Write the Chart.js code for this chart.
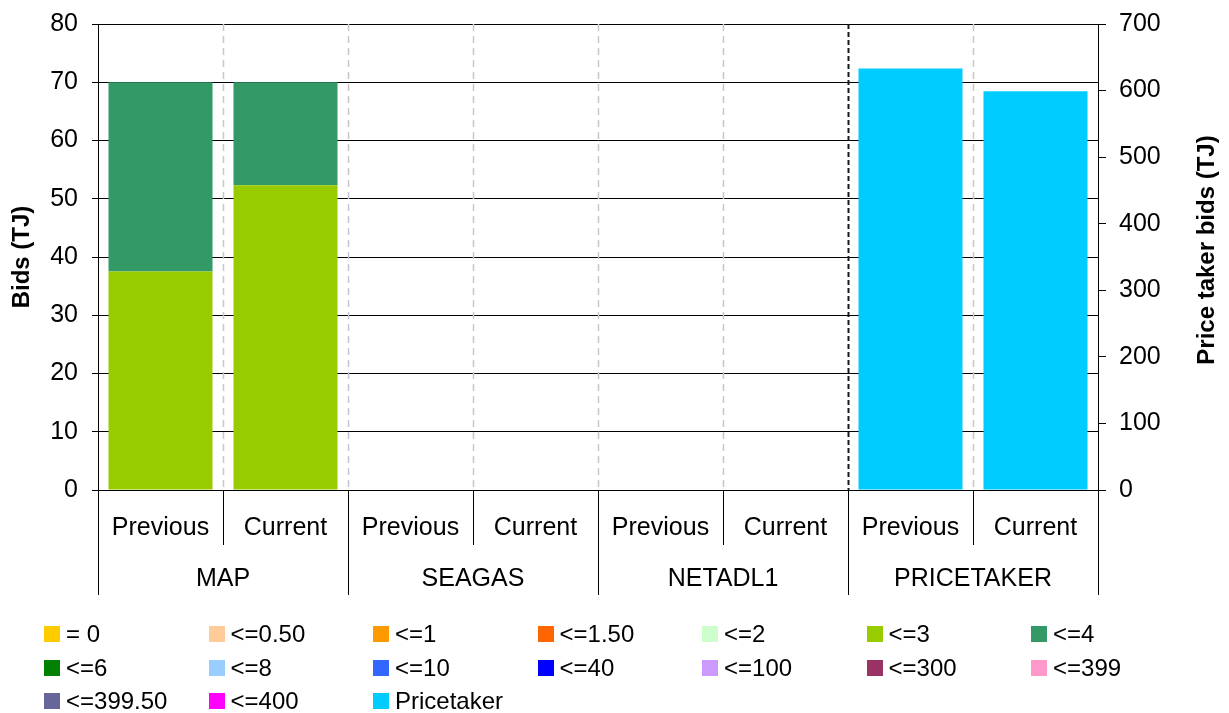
<!DOCTYPE html>
<html>
<head>
<meta charset="utf-8">
<title>Bids by price band</title>
<script src="https://cdn.jsdelivr.net/npm/chart.js@4.4.1/dist/chart.umd.min.js"></script>
<style>
  html, body { margin: 0; padding: 0; background: #fff; }
  #wrap { position: relative; width: 1229px; height: 713px; }
  #chart { position: absolute; left: 0; top: 0; }
  #legend { position: absolute; left: 0; top: 0; width: 1229px; height: 713px; pointer-events: none;
            font-family: 'Liberation Sans', Arial, sans-serif; font-size: 24px; color: #000; }
  .item { position: absolute; display: flex; align-items: center; height: 24px; white-space: nowrap; }
  .swatch { width: 16px; height: 16px; margin-right: 6px; flex: none; }
</style>
</head>
<body>
<div id="wrap">
  <canvas id="chart" width="1229" height="713"></canvas>
  <div id="legend"></div>
</div>
<script>
// Facilities and bid periods
const facilities = ['MAP', 'SEAGAS', 'NETADL1', 'PRICETAKER'];
const periods = ['Previous', 'Current'];

// Price bands ($/GJ) and their colours
const bandLabels = ['= 0', '<=0.50', '<=1', '<=1.50', '<=2', '<=3', '<=4', '<=6', '<=8',
                    '<=10', '<=40', '<=100', '<=300', '<=399', '<=399.50', '<=400'];
const bandColors = ['#FFCC00', '#FFCC99', '#FF9900', '#FF6600', '#CCFFCC', '#99CC00', '#339966',
                    '#008000', '#99CCFF', '#3366FF', '#0000FF', '#CC99FF', '#993366', '#FF99CC',
                    '#666699', '#FF00FF'];

// Bid quantities (TJ), one value per facility/period column
const noBids   = [0, 0, 0, 0, 0, 0, 0, 0];
const bandLe3  = [37.5, 52.3, 0, 0, 0, 0, 0, 0];
const bandLe4  = [32.5, 17.7, 0, 0, 0, 0, 0, 0];
const pricetakerBids = [null, null, null, null, null, null, 633, 599];   // right axis

// Axis ticks
const leftTicks = { min: 0, max: 80, step: 10 };
const rightTicks = { min: 0, max: 700, step: 100 };

const labels = [];
facilities.forEach(f => periods.forEach(p => labels.push(p)));

const bandData = { '<=3': bandLe3, '<=4': bandLe4 };

const datasets = bandLabels.map((lab, i) => ({
  label: lab,
  data: bandData[lab] || noBids,
  backgroundColor: bandColors[i],
  yAxisID: 'y',
  stack: 'bids'
}));
datasets.push({
  label: 'Pricetaker',
  data: pricetakerBids,
  backgroundColor: '#00CCFF',
  yAxisID: 'y2',
  stack: 'bids'
});

const FONT = "'Liberation Sans', Arial, sans-serif";

const decor = {
  id: 'decor',
  beforeDatasetsDraw(chart) {
    const { ctx, chartArea: a, scales: { x } } = chart;
    ctx.save();
    for (let i = 1; i < labels.length; i++) {
      const bx = Math.round((x.getPixelForValue(i - 1) + x.getPixelForValue(i)) / 2) + 0.5;
      ctx.beginPath();
      if (i === 6) {
        ctx.strokeStyle = '#1a1a1a';
        ctx.lineWidth = 2;
        ctx.setLineDash([5, 3]);
      } else {
        ctx.strokeStyle = '#c8c8c8';
        ctx.lineWidth = 1.5;
        ctx.setLineDash([7, 5]);
      }
      ctx.moveTo(bx, a.top);
      ctx.lineTo(bx, a.bottom);
      ctx.stroke();
    }
    ctx.restore();
  },
  afterDraw(chart) {
    const { ctx, chartArea: a, scales: { x } } = chart;
    ctx.save();
    ctx.strokeStyle = '#000';
    ctx.lineWidth = 1;
    ctx.setLineDash([]);
    const yb = a.bottom;
    // separators under the axis
    for (let i = 0; i <= labels.length; i++) {
      let bx;
      if (i === 0) bx = a.left;
      else if (i === labels.length) bx = a.right;
      else bx = (x.getPixelForValue(i - 1) + x.getPixelForValue(i)) / 2;
      bx = Math.round(bx) + 0.5;
      const long = i % 2 === 0;
      ctx.beginPath();
      ctx.moveTo(bx, yb);
      ctx.lineTo(bx, long ? yb + 105 : yb + 55);
      ctx.stroke();
    }
    // period and facility labels
    ctx.fillStyle = '#000';
    ctx.textAlign = 'center';
    ctx.textBaseline = 'middle';
    ctx.font = '25px ' + FONT;
    labels.forEach((l, i) => ctx.fillText(l, x.getPixelForValue(i), yb + 38));
    facilities.forEach((f, g) => {
      const cx = (x.getPixelForValue(g * 2) + x.getPixelForValue(g * 2 + 1)) / 2;
      ctx.fillText(f, cx, yb + 89);
    });
    // axis titles
    ctx.font = 'bold 24px ' + FONT;
    ctx.save();
    ctx.translate(22, (a.top + a.bottom) / 2);
    ctx.rotate(-Math.PI / 2);
    ctx.fillText('Bids (TJ)', 0, 0);
    ctx.restore();
    ctx.save();
    ctx.translate(1207, 250);
    ctx.rotate(-Math.PI / 2);
    ctx.fillText('Price taker bids (TJ)', 0, 0);
    ctx.restore();
    ctx.restore();
  }
};

new Chart(document.getElementById('chart'), {
  type: 'bar',
  data: { labels, datasets },
  options: {
    responsive: false,
    animation: false,
    events: [],
    layout: { autoPadding: false, padding: { top: 24, left: 0, right: 0, bottom: 0 } },
    datasets: { bar: { categoryPercentage: 1, barPercentage: 0.832, borderWidth: 0 } },
    plugins: { legend: { display: false }, tooltip: { enabled: false } },
    scales: {
      x: {
        stacked: true,
        grid: { display: false },
        border: { display: false },
        ticks: { display: false },
        afterFit(s) { s.height = 223; }
      },
      y: {
        position: 'left',
        stacked: true,
        min: leftTicks.min, max: leftTicks.max,
        ticks: { stepSize: leftTicks.step, color: '#000', padding: 14,
                 font: { family: FONT, size: 25, lineHeight: 0.6 } },
        grid: { color: '#000', lineWidth: 1, tickLength: 6 },
        border: { display: true, color: '#000', width: 1 },
        afterFit(s) { s.width = 98; }
      },
      y2: {
        position: 'right',
        stacked: true,
        min: rightTicks.min, max: rightTicks.max,
        ticks: { stepSize: rightTicks.step, color: '#000', padding: 13,
                 font: { family: FONT, size: 25, lineHeight: 0.6 } },
        grid: { drawOnChartArea: false, color: '#000', lineWidth: 1, tickLength: 8 },
        border: { display: true, color: '#000', width: 1 },
        afterFit(s) { s.width = 131; }
      }
    }
  },
  plugins: [decor]
});

// Legend laid out as a 7-column grid, built from the datasets
const legendEl = document.getElementById('legend');
datasets.forEach((d, i) => {
  const col = i % 7, row = Math.floor(i / 7);
  const item = document.createElement('div');
  item.className = 'item';
  item.style.left = (44 + col * 164.5) + 'px';
  item.style.top = (622 + row * 33.5) + 'px';
  const sw = document.createElement('span');
  sw.className = 'swatch';
  sw.style.background = d.backgroundColor;
  const tx = document.createElement('span');
  tx.textContent = d.label;
  item.appendChild(sw);
  item.appendChild(tx);
  legendEl.appendChild(item);
});
</script>
</body>
</html>
